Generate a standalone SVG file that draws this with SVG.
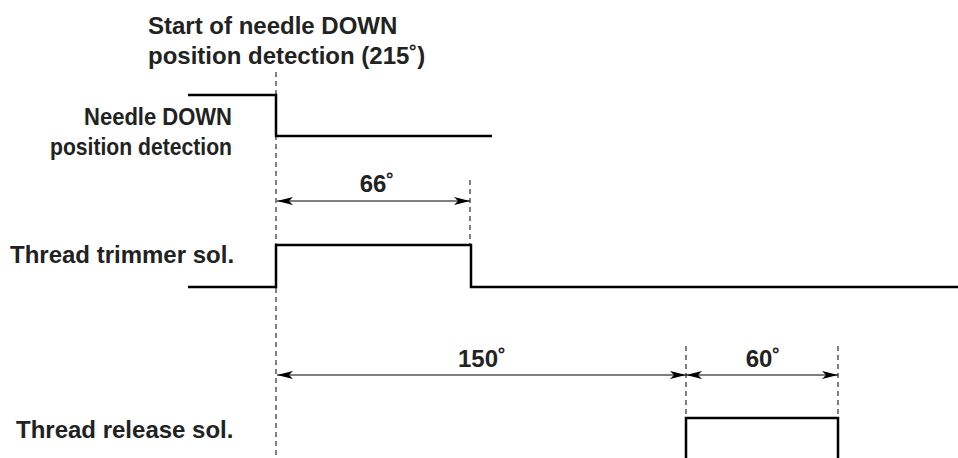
<svg xmlns="http://www.w3.org/2000/svg" width="958" height="458" viewBox="0 0 958 458">
<defs>
<marker id="ah" viewBox="0 0 16 8" refX="16" refY="4" markerWidth="16" markerHeight="8" markerUnits="userSpaceOnUse" orient="auto-start-reverse">
<path d="M0,0 L16,4 L0,8 L4,4 Z" fill="#000"/>
</marker>
<style>
text{font-family:"Liberation Sans",Arial,sans-serif;font-weight:bold;font-size:24px;fill:#222}
.sig{fill:none;stroke:#000;stroke-width:2.5}
.dash{stroke:#000;stroke-width:1;stroke-dasharray:5,4}
.dim{stroke:#000;stroke-width:1.2;marker-start:url(#ah);marker-end:url(#ah)}
</style>
</defs>
<rect width="958" height="458" fill="#fff"/>
<g id="labels">
<text x="148" y="34">Start of needle DOWN</text>
<text x="148" y="64">position detection (215˚)</text>
<text x="84" y="125" textLength="148" lengthAdjust="spacingAndGlyphs">Needle DOWN</text>
<text x="50" y="155" textLength="182" lengthAdjust="spacingAndGlyphs">position detection</text>
<text x="10" y="263">Thread trimmer sol.</text>
<text x="16" y="438">Thread release sol.</text>
</g>
<g id="guides">
<line class="dash" x1="276" y1="72" x2="276" y2="458"/>
<line class="dash" x1="470" y1="180" x2="470" y2="244"/>
<line class="dash" x1="686" y1="346" x2="686" y2="418"/>
<line class="dash" x1="838" y1="346" x2="838" y2="418"/>
</g>
<g id="needle-signal">
<polyline class="sig" points="188,95 276,95 276,136 492,136"/>
</g>
<g id="trimmer-signal">
<polyline class="sig" points="188,287 276,287 276,245 471,245 471,287 958,287"/>
</g>
<g id="release-signal">
<polyline class="sig" points="686,458 686,418 838,418 838,458"/>
</g>
<g id="connectors">
<line class="dim" x1="277" y1="201" x2="470" y2="201"/>
<line class="dim" x1="277" y1="375" x2="686" y2="375"/>
<line class="dim" x1="686" y1="375" x2="838" y2="375"/>
</g>
<g id="dim-labels">
<text x="377" y="192" text-anchor="middle">66˚</text>
<text x="482" y="367" text-anchor="middle">150˚</text>
<text x="763" y="367" text-anchor="middle">60˚</text>
</g>
</svg>
